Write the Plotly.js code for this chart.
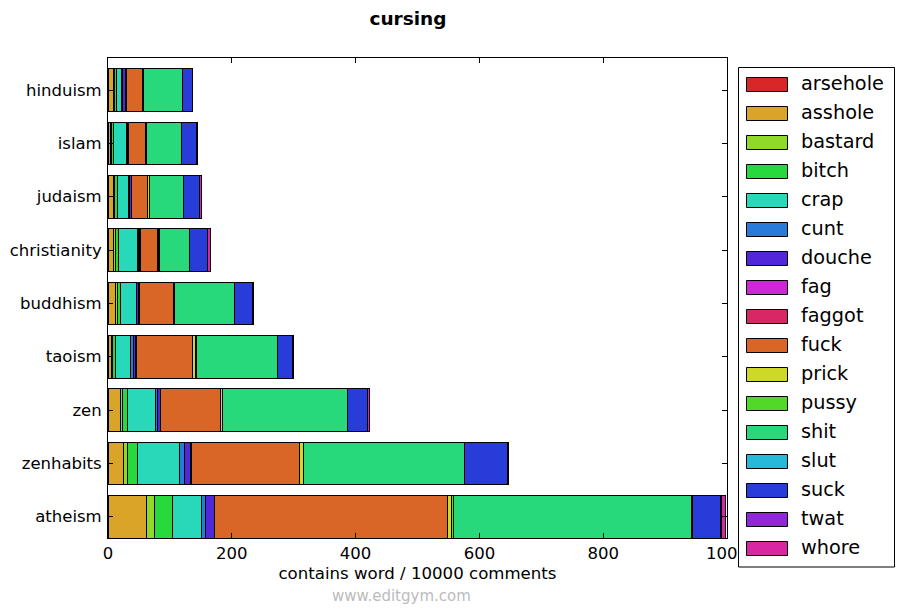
<!DOCTYPE html>
<html>
<head>
<meta charset="utf-8">
<script src="https://cdn.plot.ly/plotly-3.0.1.min.js"></script>
<style>html,body{margin:0;padding:0;background:#fff;}#chart{width:903px;height:614px;}</style>
</head>
<body>
<div id="chart"></div>
<script>
// categories, bottom to top
var categories = ['atheism','zenhabits','zen','taoism','buddhism','christianity','judaism','islam','hinduism'];
var words = ['arsehole','asshole','bastard','bitch','crap','cunt','douche','fag','faggot','fuck','prick','pussy','shit','slut','suck','twat','whore'];
var xTicks = [0, 200, 400, 600, 800, 1000];

// values per word, contains word / 10000 comments, in category order above
var arsehole = [0.5, 0.3, 0.2, 0.2, 0.2, 0.3, 0.2, 0.2, 0.2];
var asshole  = [62, 25, 20, 5, 12.5, 9, 8, 3.5, 8];
var bastard  = [13, 7, 3, 2, 3, 3, 2, 2.5, 1.5];
var bitch    = [28, 16, 7.5, 5, 5, 4.5, 4.5, 3, 4];
var crap     = [48, 67, 46, 24, 25, 31.5, 19, 20.5, 8];
var cunt     = [6.5, 8.5, 3.5, 5, 1, 1, 1.5, 1, 2];
var douche   = [13.5, 10, 4.5, 4, 3, 2, 2, 1.5, 5];
var fag      = [0.5, 0.5, 0.3, 0.3, 0.3, 0.3, 0.3, 0.3, 0.3];
var faggot   = [0.8, 0.5, 0.5, 0.3, 0.3, 0.3, 0.3, 0.3, 0.3];
var fuck     = [375, 175, 96, 91, 55, 28, 26, 27, 27];
var prick    = [7.5, 5.5, 3.5, 5, 1, 2, 3, 2.5, 1];
var pussy    = [3, 1, 0.5, 0.5, 0.5, 0.5, 0.5, 0.5, 0.5];
var shit     = [385, 259, 201, 132, 97.5, 48.5, 55, 55.5, 62];
var slut     = [0.5, 0.5, 0.3, 0.3, 0.3, 0.3, 0.3, 0.3, 0.3];
var suck     = [46, 70, 32, 23, 29.5, 29, 24.5, 24, 16];
var twat     = [2, 0.5, 1, 2, 0.3, 1, 0.5, 0.3, 0.3];
var whore    = [5.5, 0.5, 2, 0.5, 0.3, 4.5, 3, 2, 0.5];

var series = [arsehole, asshole, bastard, bitch, crap, cunt, douche, fag, faggot, fuck, prick, pussy, shit, slut, suck, twat, whore];

function hsv(h, s, v) {
  var i = Math.floor(h * 6), f = h * 6 - i;
  var p = v * (1 - s), q = v * (1 - f * s), t = v * (1 - (1 - f) * s);
  var r, g, b;
  switch (i % 6) {
    case 0: r = v; g = t; b = p; break;
    case 1: r = q; g = v; b = p; break;
    case 2: r = p; g = v; b = t; break;
    case 3: r = p; g = q; b = v; break;
    case 4: r = t; g = p; b = v; break;
    default: r = v; g = p; b = q;
  }
  function hx(c) { var s2 = Math.round(c * 255).toString(16); return s2.length < 2 ? '0' + s2 : s2; }
  return '#' + hx(r) + hx(g) + hx(b);
}
var n = words.length;
var colors = words.map(function (w, i) { return hsv(((2 * i) % n) / n, 0.82, 0.85); });

var FONT = 'DejaVu Sans, Bitstream Vera Sans, sans-serif';

var traces = words.map(function (w, i) {
  return {
    type: 'bar', orientation: 'h', name: w,
    y: categories, x: series[i],
    marker: { color: colors[i], line: { color: '#000', width: 1 } },
    hoverinfo: 'skip', showlegend: false
  };
});

// custom legend (matplotlib-like) in pixel-based paper coordinates
var L = 108, T = 58, W = 619, H = 480;
function px(x) { return (x - L) / W; }
function py(y) { return 1 - (y - T) / H; }
var shapes = [{
  type: 'rect', xref: 'paper', yref: 'paper', layer: 'above',
  x0: px(738.5), x1: px(894.5), y0: py(67.5), y1: py(567),
  fillcolor: '#fff', line: { color: '#000', width: 1 }
}];
var annotations = [];
words.forEach(function (w, i) {
  var cy = 84.5 + 29 * i;
  shapes.push({
    type: 'rect', xref: 'paper', yref: 'paper', layer: 'above',
    x0: px(746.5), x1: px(787.5), y0: py(cy - 7), y1: py(cy + 7),
    fillcolor: colors[i], line: { color: '#000', width: 1 }
  });
  annotations.push({
    xref: 'paper', yref: 'paper', x: px(799), y: py(cy - 1), xanchor: 'left', yanchor: 'middle',
    text: w, showarrow: false, font: { family: FONT, size: 19.3, color: '#000' }
  });
});
annotations.push({
  xref: 'paper', yref: 'paper', x: px(401), y: py(596), xanchor: 'center', yanchor: 'middle',
  text: 'www.editgym.com', showarrow: false, font: { family: FONT, size: 15, color: '#bbbbbb' }
});

var layout = {
  width: 903, height: 614,
  margin: { l: L, r: 903 - L - W, t: T, b: 614 - T - H, pad: 0 },
  paper_bgcolor: '#fff', plot_bgcolor: '#fff',
  barmode: 'stack', bargap: 0.2,
  showlegend: false,
  title: { text: '<b>cursing</b>', x: 408 / 903, xref: 'container', xanchor: 'center',
           y: 1 - 19 / 614, yref: 'container', yanchor: 'middle',
           font: { family: FONT, size: 18.5, color: '#000' } },
  xaxis: {
    range: [0, 1000], tickvals: xTicks, ticktext: xTicks.map(String),
    ticks: 'inside', ticklen: 5, tickcolor: '#000', tickwidth: 1,
    showline: true, linecolor: '#000', linewidth: 1, mirror: 'ticks',
    showgrid: false, zeroline: false,
    tickfont: { family: FONT, size: 16.5, color: '#000' },
    title: { text: 'contains word / 10000 comments', standoff: 5,
             font: { family: FONT, size: 16.6, color: '#000' } }
  },
  yaxis: {
    type: 'category', categoryorder: 'array', categoryarray: categories,
    range: [-0.4, 8.6],
    ticks: 'inside', ticklen: 5, tickcolor: '#000', tickwidth: 1,
    showline: true, linecolor: '#000', linewidth: 1, mirror: 'ticks',
    showgrid: false, zeroline: false, ticklabelstandoff: 2,
    tickfont: { family: FONT, size: 16.5, color: '#000' }
  },
  shapes: shapes,
  annotations: annotations
};

Plotly.newPlot('chart', traces, layout, { staticPlot: true, displayModeBar: false });
</script>
</body>
</html>
